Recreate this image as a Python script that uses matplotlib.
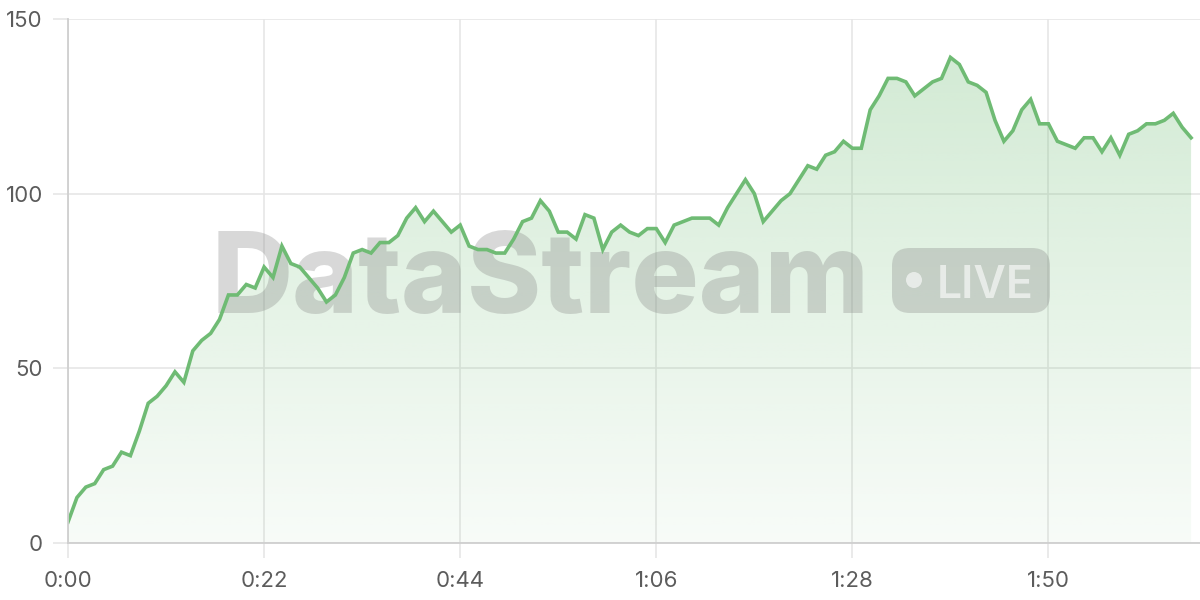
import matplotlib.pyplot as plt
import numpy as np
from matplotlib.patches import FancyBboxPatch, Circle
from matplotlib.transforms import IdentityTransform

# valores, um por segundo
values = [6, 13, 16, 17, 21, 22, 26, 25, 32, 40,
          42, 45, 49, 46, 55, 58, 60, 64, 71, 71,
          74, 73, 79, 76, 85, 80, 79, 76, 73, 69,
          71, 76, 83, 84, 83, 86, 86, 88, 93, 96,
          92, 95, 92, 89, 91, 85, 84, 84, 83, 83,
          87, 92, 93, 98, 95, 89, 89, 87, 94, 93,
          84, 89, 91, 89, 88, 90, 90, 86, 91, 92,
          93, 93, 93, 91, 96, 100, 104, 100, 92, 95,
          98, 100, 104, 108, 107, 111, 112, 115, 113, 113,
          124, 128, 133, 133, 132, 128, 130, 132, 133, 139,
          137, 132, 131, 129, 121, 115, 118, 124, 127, 120,
          120, 115, 114, 113, 116, 116, 112, 116, 111, 117,
          118, 120, 120, 121, 123, 119, 116]
seconds = np.arange(len(values))
x_ticks = [0, 22, 44, 66, 88, 110]
x_labels = [f'{t // 60}:{t % 60:02d}' for t in x_ticks]
y_ticks = [0, 50, 100, 150]

line_color = '#6fbb74'
grid_color = '#e6e6e6'
text_color = '#5c5c5c'

plt.rcParams['font.family'] = ['Inter', 'DejaVu Sans']

fig = plt.figure(figsize=(12, 6), dpi=100)
ax = fig.add_axes([68 / 1200, 57 / 600, 1132 / 1200, 524 / 600])
ax.set_xlim(0, 127)
ax.set_ylim(0, 150)

# preenchimento com gradiente
poly = ax.fill_between(seconds, values, 0, color='none', linewidth=0)
grad = np.zeros((256, 2, 4))
rgb = np.array([108, 187, 114]) / 255
grad[:, :, :3] = rgb
grad[:, :, 3] = np.linspace(0.32, 0.05, 256)[:, None]
img = ax.imshow(grad, extent=[0, 127, 0, 150], aspect='auto', origin='upper', zorder=1)
img.set_clip_path(poly.get_paths()[0], transform=ax.transData)

ax.plot(seconds, values, color=line_color, linewidth=2.6, zorder=4,
        solid_joinstyle='miter')

ax.set_xticks(x_ticks)
ax.set_xticklabels(x_labels)
ax.set_yticks(y_ticks)
ax.grid(True, color=grid_color, linewidth=1.2, zorder=0)
ax.set_axisbelow(True)
ax.tick_params(axis='both', length=11, width=1.2, color=grid_color,
               labelsize=16, labelcolor=text_color)
ax.tick_params(axis='x', pad=9)
ax.tick_params(axis='y', pad=7)
for side in ['top', 'right']:
    ax.spines[side].set_visible(False)
for side in ['left', 'bottom']:
    ax.spines[side].set_color('#cfcfcf')
    ax.spines[side].set_linewidth(1.3)
    ax.spines[side].set_zorder(5)

# marca d'agua
wm_color = (0.5, 0.5, 0.5, 0.3)
wm = ax.text(212, 600 - 313, 'DataStream', transform=IdentityTransform(),
             fontsize=84, fontweight='heavy', color=wm_color,
             ha='left', va='baseline', zorder=3)
fig.canvas.draw()
bb = wm.get_window_extent()
wm.set_fontsize(84 * 658 / bb.width)

pill = FancyBboxPatch((892, 287), 158, 65, boxstyle='round,pad=0,rounding_size=18',
                      transform=IdentityTransform(), facecolor=wm_color,
                      edgecolor='none', zorder=3, clip_on=False)
ax.add_patch(pill)
dot = Circle((914, 320), 8, transform=IdentityTransform(), facecolor=(1, 1, 1, 0.6),
             edgecolor='none', zorder=3, clip_on=False)
ax.add_patch(dot)
live = ax.text(937, 302, 'LIVE', transform=IdentityTransform(), fontsize=32,
               fontweight='semibold', color=(1, 1, 1, 0.6), ha='left', va='baseline', zorder=3)
fig.canvas.draw()
bb = live.get_window_extent()
live.set_fontsize(32 * 97 / bb.width)

fig.savefig('out.png', dpi=100)
